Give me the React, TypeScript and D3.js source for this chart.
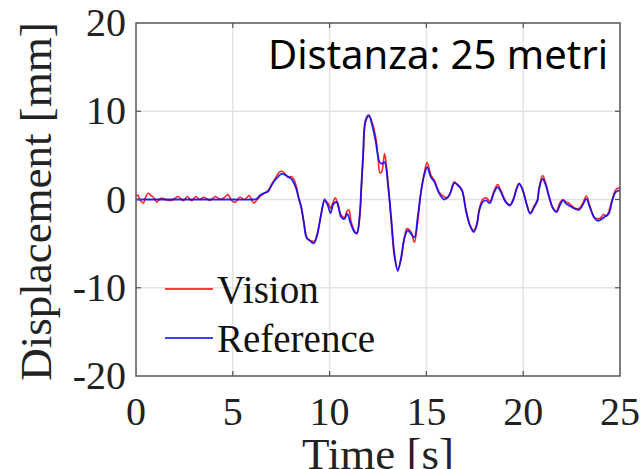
import React, { useEffect, useRef } from "react";
import * as d3 from "d3";

const xTicks = [0, 5, 10, 15, 20, 25];
const yTicks = [-20, -10, 0, 10, 20];

const refTime = [0, 1, 2, 3, 4, 5, 6.0, 6.22, 6.39, 6.6, 6.82, 7.0, 7.16, 7.35, 7.51, 7.65, 7.77, 8.02, 8.15, 8.28, 8.4, 8.54, 8.67, 8.8, 8.97, 9.18, 9.35, 9.47, 9.57, 9.74, 9.91, 10.05, 10.2, 10.38, 10.6, 10.77, 10.91, 11.07, 11.29, 11.41, 11.55, 11.65, 11.72, 11.86, 12.03, 12.2, 12.37, 12.58, 12.71, 12.84, 13.01, 13.18, 13.35, 13.52, 13.69, 13.87, 14.04, 14.21, 14.38, 14.55, 14.73, 14.9, 15.04, 15.24, 15.41, 15.67, 15.93, 16.19, 16.44, 16.61, 16.84, 17.04, 17.25, 17.44, 17.6, 17.73, 17.9, 18.08, 18.28, 18.5, 18.68, 18.85, 19.1, 19.31, 19.48, 19.66, 19.79, 19.96, 20.17, 20.36, 20.57, 20.74, 20.82, 21.0, 21.17, 21.34, 21.55, 21.72, 21.89, 22.06, 22.23, 22.46, 22.68, 22.89, 23.06, 23.26, 23.44, 23.66, 23.83, 24.0, 24.23, 24.43, 24.6, 24.78, 24.95, 25];
const refDisp = [0, 0, 0, 0, 0, 0, 0, 0.05, 0.45, 0.7, 0.9, 1.6, 2.16, 2.6, 2.9, 2.85, 2.7, 2.35, 1.9, 1.2, 0.2, -0.87, -2.6, -4.3, -4.66, -4.96, -4.1, -2.8, -1.6, 0, -0.7, -1.55, -0.5, -0.3, -2.0, -2.2, -1.6, -2.6, -3.7, -3.8, -1.8, 2.0, 4.6, 9.0, 9.55, 8.4, 6.7, 4.24, 4.05, 4.24, 1.8, -2.0, -6.2, -8.1, -6.6, -4.3, -3.5, -3.9, -4.3, -2.0, 1.0, 2.9, 3.67, 2.5, 2.0, 0.64, 0, 0.5, 1.85, 1.7, 1.0, -1.25, -2.95, -3.7, -2.95, -1.25, -0.3, -0.1, -0.4, 0.83, 1.4, 0.83, -0.3, -0.68, -0.1, 1.2, 1.8, 1.2, -0.5, -1.6, -0.87, -0.1, 1.2, 2.35, 1.6, 0.27, -1.06, -1.44, -0.68, -0.11, -0.5, -0.8, -1.06, -1.17, -0.68, 0.08, -0.87, -2.0, -2.4, -2.3, -1.93, -1.55, -0.1, 0.83, 1.0, 0.95];

const visTime = [0, 0.1, 0.2, 0.38, 0.5, 0.63, 0.8, 0.9, 1.07, 1.2, 1.32, 1.58, 1.83, 2.0, 2.18, 2.44, 2.65, 2.87, 3.09, 3.3, 3.5, 3.8, 3.95, 4.12, 4.35, 4.55, 4.76, 4.93, 5.15, 5.36, 5.62, 5.84, 6.08, 6.3, 6.56, 6.82, 7.0, 7.2, 7.4, 7.55, 7.7, 7.85, 8.02, 8.15, 8.28, 8.4, 8.54, 8.7, 8.85, 8.97, 9.1, 9.2, 9.35, 9.5, 9.62, 9.74, 9.85, 9.95, 10.05, 10.15, 10.3, 10.45, 10.6, 10.77, 10.9, 11.0, 11.1, 11.29, 11.41, 11.55, 11.65, 11.75, 11.86, 12.03, 12.2, 12.37, 12.5, 12.6, 12.7, 12.84, 12.95, 13.05, 13.18, 13.35, 13.52, 13.69, 13.87, 14.0, 14.21, 14.38, 14.55, 14.73, 14.9, 15.04, 15.24, 15.41, 15.67, 15.93, 16.1, 16.25, 16.44, 16.61, 16.75, 16.84, 17.04, 17.25, 17.44, 17.6, 17.73, 17.9, 18.08, 18.28, 18.5, 18.68, 18.85, 19.1, 19.31, 19.48, 19.66, 19.79, 19.96, 20.17, 20.36, 20.57, 20.74, 20.82, 21.0, 21.17, 21.34, 21.55, 21.72, 21.89, 22.06, 22.23, 22.35, 22.46, 22.68, 22.89, 23.06, 23.26, 23.44, 23.66, 23.83, 24.0, 24.15, 24.3, 24.43, 24.6, 24.78, 24.95, 25];
const visDisp = [0.3, 0.5, 0.0, -0.4, 0.3, 0.7, 0.4, 0.26, -0.3, 0.0, 0.15, -0.05, -0.1, 0.1, 0.34, -0.15, 0.34, -0.15, 0.34, 0, 0.26, -0.1, 0.1, 0.34, 0, 0.2, 0.55, -0.1, -0.3, 0.26, 0, 0.45, -0.4, 0.1, 0.64, 1.0, 1.7, 2.4, 3.1, 3.2, 2.9, 2.5, 2.6, 2.3, 1.5, 0.2, -1.0, -3.0, -4.4, -4.6, -4.7, -4.8, -4.0, -2.4, -1.0, -0.2, -0.3, -0.5, -1.0, -0.5, 0.2, -0.9, -1.8, -2.0, -1.3, -1.2, -2.4, -3.6, -3.9, -2.2, 1.5, 5.5, 8.8, 9.4, 8.7, 7.2, 5.0, 3.0, 3.2, 5.2, 3.5, 1.0, -2.5, -6.5, -7.9, -6.8, -4.3, -3.3, -3.7, -4.85, -2.5, 1.0, 3.1, 4.2, 2.7, 2.2, 0.8, 0.3, 0.2, 0.9, 2.0, 1.6, 1.3, 1.1, -1.1, -2.9, -3.5, -2.8, -1.1, 0.0, 0.2, -0.2, 1.0, 1.7, 1.0, -0.2, -0.6, 0.0, 1.3, 1.8, 1.1, -0.4, -1.5, -0.7, 0.0, 1.3, 2.7, 1.8, 0.3, -1.0, -1.3, -0.4, 0.0, -0.3, -0.4, -0.6, -1.0, -1.0, -0.5, 0.4, -0.7, -2.0, -2.2, -2.1, -1.7, -1.9, -1.3, 0.0, 1.1, 1.3, 1.2];

const seriesNames = ["Vision", "Reference"];
const seriesColors = ["#ff0000", "#0000ff"];
const annotation = "Distanza: 25 metri";
const xLabel = "Time [s]";
const yLabel = "Displacement [mm]";

const W = 643;
const H = 469;
const L = 136, R = 620, T = 23, B = 376;
const SERIF = "Liberation Serif";

export default function App() {
  const ref = useRef<SVGSVGElement | null>(null);

  useEffect(() => {
    if (!ref.current) return;
    const svg = d3.select(ref.current);
    svg.selectAll("*").remove();

    const x = d3.scaleLinear().domain([0, 25]).range([L, R]);
    const y = d3.scaleLinear().domain([-20, 20]).range([B, T]);
    const gridColor = "#e3e3e3";
    const axisColor = "#555";

    svg.append("rect").attr("x", 0).attr("y", 0).attr("width", W).attr("height", H).attr("fill", "#fff");

    xTicks.slice(1, -1).forEach((t) => {
      svg.append("line").attr("x1", x(t)).attr("x2", x(t)).attr("y1", T).attr("y2", B)
        .attr("stroke", gridColor).attr("stroke-width", 1.5);
    });
    yTicks.slice(1, -1).forEach((t) => {
      svg.append("line").attr("x1", L).attr("x2", R).attr("y1", y(t)).attr("y2", y(t))
        .attr("stroke", gridColor).attr("stroke-width", 1.5);
    });

    const line = d3
      .line<[number, number]>()
      .x((d) => x(d[0]))
      .y((d) => y(d[1]))
      .curve(d3.curveCatmullRom.alpha(0.5));
    const visPts = visTime.map((t, i) => [t, visDisp[i]] as [number, number]);
    const refPts = refTime.map((t, i) => [t, refDisp[i]] as [number, number]);

    svg.append("path").attr("d", line(visPts) || "").attr("fill", "none")
      .attr("stroke", seriesColors[0]).attr("stroke-width", 1.6).attr("stroke-opacity", 0.85);
    svg.append("path").attr("d", line(refPts) || "").attr("fill", "none")
      .attr("stroke", seriesColors[1]).attr("stroke-width", 1.8).attr("stroke-opacity", 0.85);

    xTicks.slice(1, -1).forEach((t) => {
      svg.append("line").attr("x1", x(t)).attr("x2", x(t)).attr("y1", B).attr("y2", B - 5)
        .attr("stroke", axisColor).attr("stroke-width", 1.2);
      svg.append("line").attr("x1", x(t)).attr("x2", x(t)).attr("y1", T).attr("y2", T + 5)
        .attr("stroke", axisColor).attr("stroke-width", 1.2);
    });
    yTicks.slice(1, -1).forEach((t) => {
      svg.append("line").attr("x1", L).attr("x2", L + 5).attr("y1", y(t)).attr("y2", y(t))
        .attr("stroke", axisColor).attr("stroke-width", 1.2);
      svg.append("line").attr("x1", R).attr("x2", R - 5).attr("y1", y(t)).attr("y2", y(t))
        .attr("stroke", axisColor).attr("stroke-width", 1.2);
    });

    svg.append("rect").attr("x", L).attr("y", T).attr("width", R - L).attr("height", B - T)
      .attr("fill", "none").attr("stroke", axisColor).attr("stroke-width", 1.5);

    const addText = (txt: string, px: number, py: number, size: number, anchor: string, fill: string, transform?: string) => {
      const el = svg.append("text")
        .attr("font-family", SERIF)
        .attr("font-size", size)
        .attr("text-anchor", anchor)
        .attr("fill", fill)
        .style("font-family", SERIF)
        .text(txt);
      if (transform) el.attr("transform", transform);
      else el.attr("x", px).attr("y", py);
      return el;
    };

    xTicks.forEach((t) => addText(String(t), x(t), 425, 40, "middle", "#222"));
    yTicks.forEach((t) => addText(String(t), 126, y(t) + 13, 40, "end", "#222"));
    addText(xLabel, 378, 469, 45, "middle", "#222");
    addText(yLabel, 0, 0, 45, "middle", "#222", `translate(51,${(T + B) / 2 + 2}) rotate(-90)`);

    svg.append("line").attr("x1", 165).attr("x2", 213).attr("y1", 289).attr("y2", 289)
      .attr("stroke", seriesColors[0]).attr("stroke-width", 1.3);
    addText(seriesNames[0], 217, 303, 39, "start", "#111");
    svg.append("line").attr("x1", 165).attr("x2", 213).attr("y1", 338).attr("y2", 338)
      .attr("stroke", seriesColors[1]).attr("stroke-width", 1.3);
    addText(seriesNames[1], 217, 352, 39, "start", "#111");

    svg.append("text").attr("x", 608).attr("y", 69).attr("text-anchor", "end")
      .attr("font-family", "Noto Sans").style("font-family", "Noto Sans")
      .attr("font-size", 40).attr("fill", "#000").text(annotation);
  }, []);

  return (
    <svg ref={ref} width={W} height={H} style={{ position: "absolute", left: 0, top: 0, background: "#fff" }} />
  );
}
